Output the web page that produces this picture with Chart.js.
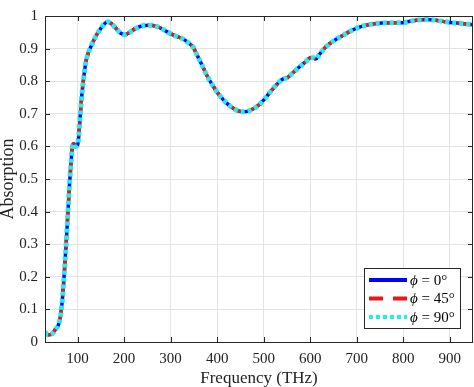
<!DOCTYPE html>
<html>
<head>
<meta charset="utf-8">
<script src="https://cdn.jsdelivr.net/npm/chart.js@4/dist/chart.umd.min.js"></script>
<style>
  html, body { margin: 0; padding: 0; background: #fff; }
  #wrap { width: 474px; height: 387px; }
</style>
</head>
<body>
<div id="wrap"><canvas id="absChart"></canvas></div>
<script>
// frequency (THz) and absorption; the three phi curves overlap
const freq = [30, 37, 45, 52, 58, 62, 66, 70, 75, 79, 83, 86, 89, 92, 96, 100, 103, 106, 110, 114,
  118, 124, 130, 138, 148, 158, 165, 172, 182, 192, 202, 212, 225, 240, 255, 270, 285, 298, 312, 326,
  338, 348, 358, 369, 380, 391, 405, 421, 438, 455, 470, 485, 500, 513, 525, 535, 542, 550, 563, 578,
  592, 600, 607, 612, 620, 630, 642, 655, 670, 688, 706, 725, 749, 775, 799, 815, 832, 850, 870, 900,
  925, 950];
const absorption = [0.030, 0.022, 0.025, 0.038, 0.050, 0.068, 0.110, 0.180, 0.290, 0.390, 0.490, 0.550, 0.600, 0.608, 0.600, 0.603, 0.640, 0.700, 0.770, 0.820,
  0.860, 0.890, 0.910, 0.935, 0.958, 0.976, 0.982, 0.977, 0.963, 0.948, 0.943, 0.950, 0.962, 0.970, 0.972, 0.968, 0.958, 0.947, 0.938, 0.930,
  0.918, 0.905, 0.877, 0.845, 0.812, 0.786, 0.757, 0.732, 0.714, 0.706, 0.710, 0.722, 0.742, 0.765, 0.785, 0.800, 0.807, 0.810, 0.826, 0.845,
  0.862, 0.872, 0.872, 0.868, 0.882, 0.900, 0.915, 0.928, 0.940, 0.955, 0.966, 0.973, 0.978, 0.979, 0.979, 0.984, 0.988, 0.989, 0.987, 0.980,
  0.977, 0.973];
const seriesNames = ['0°', '45°', '90°'];
const xTicks = [100, 200, 300, 400, 500, 600, 700, 800, 900];
const yTicks = [0, 0.1, 0.2, 0.3, 0.4, 0.5, 0.6, 0.7, 0.8, 0.9, 1];

const serif = "'Liberation Serif', 'Times New Roman', serif";

// box around the plot with inward ticks, like the original figure
const frameTicks = {
  id: 'frameTicks',
  afterDraw(chart) {
    const { ctx, chartArea: a, scales } = chart;
    ctx.save();
    ctx.strokeStyle = '#262626';
    ctx.lineWidth = 1;
    ctx.beginPath();
    scales.x.ticks.forEach(t => {
      const px = Math.round(scales.x.getPixelForValue(t.value)) + 0.5;
      ctx.moveTo(px, a.bottom); ctx.lineTo(px, a.bottom - 5);
      ctx.moveTo(px, a.top); ctx.lineTo(px, a.top + 5);
    });
    scales.y.ticks.forEach(t => {
      const py = Math.round(scales.y.getPixelForValue(t.value)) + 0.5;
      ctx.moveTo(a.left, py); ctx.lineTo(a.left + 5, py);
      ctx.moveTo(a.right, py); ctx.lineTo(a.right - 5, py);
    });
    ctx.stroke();
    ctx.strokeRect(Math.round(a.left) + 0.5, Math.round(a.top) + 0.5,
      Math.round(a.right - a.left) - 1, Math.round(a.bottom - a.top));
    ctx.restore();
  }
};

// legend box in the lower right corner of the plot
const phiLegend = {
  id: 'phiLegend',
  afterDraw(chart) {
    const { ctx, chartArea: a } = chart;
    const w = 96, h = 60;
    const x0 = a.right - 13 - w, y0 = a.bottom - 14 - h;
    ctx.save();
    ctx.fillStyle = '#fff';
    ctx.fillRect(x0, y0, w, h);
    ctx.strokeStyle = '#262626';
    ctx.lineWidth = 1;
    ctx.strokeRect(Math.round(x0) + 0.5, Math.round(y0) + 0.5, w, h);
    chart.data.datasets.forEach((ds, i) => {
      const y = y0 + 12 + i * 18.5;
      ctx.beginPath();
      ctx.strokeStyle = ds.borderColor;
      ctx.lineWidth = 4;
      ctx.setLineDash(ds.borderDash || []);
      ctx.moveTo(x0 + 5, y);
      ctx.lineTo(x0 + 43, y);
      ctx.stroke();
      ctx.setLineDash([]);
      ctx.fillStyle = '#000';
      ctx.textBaseline = 'middle';
      ctx.font = 'italic 15px ' + serif;
      ctx.fillText('ϕ', x0 + 46, y + 1);
      const pw = ctx.measureText('ϕ').width;
      ctx.font = '15px ' + serif;
      ctx.fillText(' = ' + seriesNames[i], x0 + 46 + pw, y + 1);
    });
    ctx.restore();
  }
};

const points = freq.map((f, i) => ({ x: f, y: absorption[i] }));
const common = { data: points, pointRadius: 0, fill: false, cubicInterpolationMode: 'monotone' };

new Chart(document.getElementById('absChart').getContext('2d'), {
  type: 'line',
  data: {
    datasets: [
      // lower "order" is drawn on top: cyan over red over blue
      { ...common, label: 'ϕ = 0°', borderColor: '#0000ff', borderWidth: 3.5, order: 3 },
      { ...common, label: 'ϕ = 45°', borderColor: '#e41a1a', borderWidth: 3.5, borderDash: [14, 10], order: 2 },
      { ...common, label: 'ϕ = 90°', borderColor: '#22eeee', borderWidth: 5, borderDash: [4, 3], order: 1 }
    ]
  },
  options: {
    responsive: true,
    maintainAspectRatio: false,
    animation: false,
    layout: { padding: { top: 5, right: 1, left: 0, bottom: 0 } },
    scales: {
      x: {
        type: 'linear',
        min: 30,
        max: 950,
        afterBuildTicks: s => { s.ticks = xTicks.map(v => ({ value: v })); },
        afterFit: s => { s.height = 45; },
        grid: { color: '#e3e3e3', drawTicks: false },
        border: { display: false },
        ticks: { color: '#222', padding: 8, maxRotation: 0, font: { family: serif, size: 15 } },
        title: { display: true, text: 'Frequency (THz)', color: '#222', padding: { top: 0, bottom: -2 }, font: { family: serif, size: 17 } }
      },
      y: {
        min: 0,
        max: 1,
        afterBuildTicks: s => { s.ticks = yTicks.map(v => ({ value: v })); },
        afterFit: s => { s.width = 45; },
        grid: { color: '#e3e3e3', drawTicks: false },
        border: { display: false },
        ticks: {
          color: '#222', padding: 7, font: { family: serif, size: 15 },
          callback: v => String(Number(v.toFixed(1)))
        },
        title: { display: true, text: 'Absorption', color: '#222', padding: { top: -3, bottom: 0 }, font: { family: serif, size: 18 } }
      }
    },
    plugins: {
      legend: { display: false },
      tooltip: { enabled: false }
    }
  },
  plugins: [frameTicks, phiLegend]
});
</script>
</body>
</html>
